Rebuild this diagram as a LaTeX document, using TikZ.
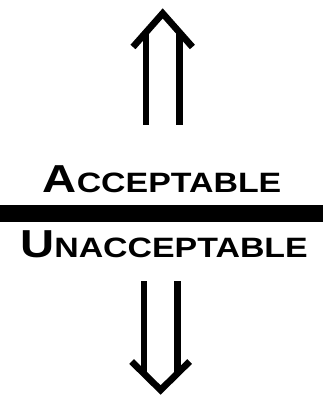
\documentclass[tikz,border=0pt]{standalone}
\usepackage{fontspec}
\setmainfont[FakeStretch=1.21]{Liberation Sans}
\usetikzlibrary{positioning}

\newcommand{\FakeSC}[2]{{\fontsize{39}{39}\selectfont #1}{\fontsize{28}{28}\selectfont #2}}

\begin{document}
\begin{tikzpicture}[
    x=1pt,y=-1pt,
    verdict/.style={
      inner sep=0pt,
      anchor=base,
      font=\bfseries
    },
    divider/.style={
      fill=black,
      draw=none,
      inner sep=0pt,
      minimum width=323pt,
      minimum height=17pt
    },
    bigarrow/.style={line width=6.7pt,line join=miter,draw=black}
  ]
    \useasboundingbox (0,0) rectangle (323,398);
    \node[divider] (bar) at (161.5,213.5) {};
    \node[verdict] (acc) at (162,192) {\FakeSC{A}{CCEPTABLE}};
    \node[verdict] (unacc) at (164,257) {\FakeSC{U}{NACCEPTABLE}};
    \coordinate (up) at (162.7,13.4);
    \coordinate (down) at (160.6,390);
    \draw[bigarrow] (up) ++(-29.7,33.6) -- (up) -- ++(29.7,33.6);
    \draw[bigarrow] (down) ++(-29,-28.5) -- (down) -- ++(29,-28.5);
    \foreach \s in {-16.65,16.65} {
      \draw[bigarrow] (up) ++(\s,19) -- ++(0,92.6);
      \draw[bigarrow] (down) ++(\s,-109) -- ++(0,92.4);
    }
  \end{tikzpicture}
\end{document}
